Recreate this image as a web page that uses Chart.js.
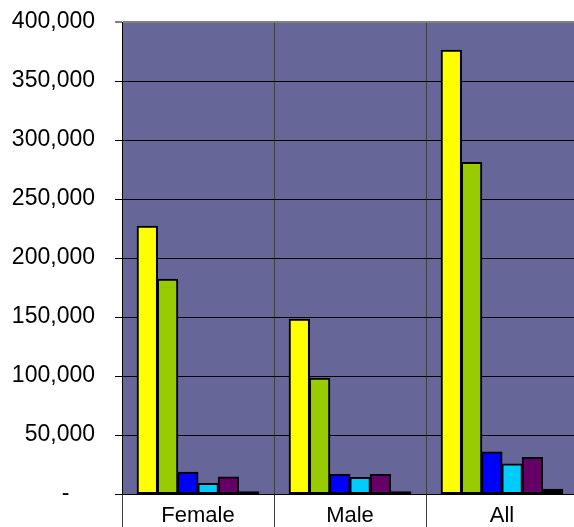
<!DOCTYPE html>
<html>
<head>
<meta charset="utf-8">
<script src="https://cdn.jsdelivr.net/npm/chart.js@4"></script>
<style>
    html, body { margin: 0; padding: 0; background: #fff; overflow: hidden; }
    #wrap { width: 580px; height: 527px; }
</style>
</head>
<body>
<div id="wrap"><canvas id="groupChart"></canvas></div>
<script>
// Categories and values
const categories = ['Female', 'Male', 'All'];
const seriesA = [227000, 148000, 376000]; // yellow
const seriesB = [182000, 98000, 281000];  // green
const seriesC = [18500, 16500, 35500];    // blue
const seriesD = [9000, 14000, 25500];     // cyan
const seriesE = [14500, 16500, 31000];    // purple
const seriesF = [2000, 2000, 4000];       // black
const yTicks = [0, 50000, 100000, 150000, 200000, 250000, 300000, 350000, 400000];

const seriesColors = ['#FFFF00', '#99CC00', '#0000FF', '#00CCFF', '#660066', '#000000'];
const allSeries = [seriesA, seriesB, seriesC, seriesD, seriesE, seriesF];

const fontFamily = "'Liberation Sans', Arial, sans-serif";

// plot area background
const plotBackground = {
    id: 'plotBackground',
    beforeDraw(chart) {
        const { ctx, chartArea } = chart;
        ctx.save();
        ctx.fillStyle = '#666699';
        ctx.fillRect(chartArea.left, chartArea.top, chartArea.right - chartArea.left, chartArea.bottom - chartArea.top);
        ctx.restore();
    }
};

const data = {
    labels: categories,
    datasets: allSeries.map((values, i) => ({
        label: 'S' + (i + 1),
        data: values,
        backgroundColor: seriesColors[i],
        borderColor: '#000',
        borderWidth: 2,
        borderSkipped: false,
        inflateAmount: 0.5,
        categoryPercentage: 0.8,
        barPercentage: 1.0
    }))
};

const config = {
    type: 'bar',
    data: data,
    options: {
        responsive: true,
        maintainAspectRatio: false,
        animation: false,
        layout: { padding: { top: 22, right: 2, left: 0, bottom: 0 } },
        plugins: {
            legend: { display: false },
            tooltip: { enabled: false }
        },
        scales: {
            x: {
                grid: {
                    offset: true,
                    color: '#404040',
                    lineWidth: 1,
                    tickLength: 33
                },
                border: { display: true, color: '#000', width: 1 },
                ticks: {
                    color: '#000',
                    padding: -24,
                    font: { family: fontFamily, size: 22 }
                },
                afterFit: function (scale) {
                    scale.height = 33;
                    scale.paddingLeft = 0;
                    scale.paddingRight = 0;
                }
            },
            y: {
                min: 0,
                max: 400000,
                afterBuildTicks: function (scale) {
                    scale.ticks = yTicks.map(v => ({ value: v }));
                },
                grid: {
                    color: ctx => (ctx.tick && ctx.tick.value === 400000) ? '#808080' : '#000',
                    lineWidth: ctx => (ctx.tick && ctx.tick.value === 400000) ? 2 : 1,
                    tickLength: 7
                },
                border: { display: true, color: '#000', width: 1 },
                ticks: {
                    color: '#000',
                    padding: 20,
                    font: { family: fontFamily, size: 23 },
                    callback: function (value) {
                        return value === 0 ? '-    ' : value.toLocaleString('en-US');
                    }
                },
                afterFit: function (scale) {
                    scale.width = 122;
                    scale.paddingTop = 0;
                    scale.paddingBottom = 0;
                }
            }
        }
    },
    plugins: [plotBackground]
};

const groupChart = new Chart(document.getElementById('groupChart').getContext('2d'), config);
</script>
</body>
</html>
